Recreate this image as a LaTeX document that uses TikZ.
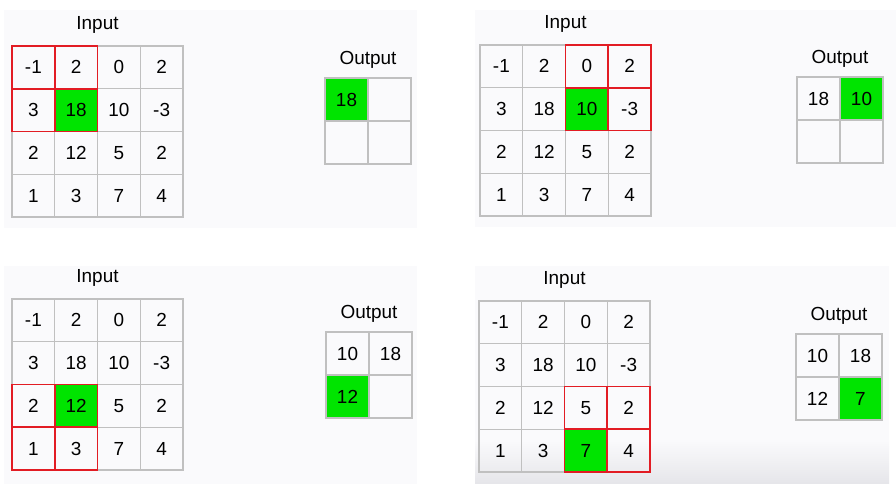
\documentclass[tikz,border=0pt]{standalone}
\usepackage{fontspec}
\setmainfont{Liberation Sans}
\usepackage{tikz}
\usetikzlibrary{positioning,backgrounds}

\definecolor{gridgray}{RGB}{192,192,192}
\definecolor{winred}{RGB}{226,28,36}
\definecolor{maxgreen}{RGB}{0,228,0}
\definecolor{panelbg}{RGB}{250,250,252}

\begin{document}
\begin{tikzpicture}[x=1bp, y=-1bp,
  every node/.style={font=\fontsize{19}{21}\selectfont},
  cell/.style={rectangle, draw=gridgray, line width=1.3bp, minimum size=42.75bp, inner sep=0pt, outer sep=0pt},
  ocell/.style={cell, minimum size=43bp},
  win/.style={draw=winred, line width=1.7bp},
  panel/.style={fill=panelbg, draw=none}]
  \useasboundingbox (0,0) rectangle (896,492);

  % light panels behind the four steps
  \begin{scope}[on background layer]
    \fill[white] (0,0) rectangle (896,492);
    \fill[panel] (4,10) rectangle (417,228);
    \fill[panel] (475,10) rectangle (896,227);
    \fill[panel] (4,266) rectangle (417,484);
    \fill[panel] (475,266) rectangle (889,440);
    \shade[top color=panelbg, bottom color={rgb,255:red,230;green,230;blue,234}] (475,440) rectangle (889,483);
  \end{scope}

  % input grids, same numbers in all four steps
  \foreach \p/\px/\py in {a/12/46, b/480/45, c/12/299, d/479/301} {
    \node (in\p) at ({\px+85.5},{\py-21}) {Input};
    \foreach \row [count=\r] in {{-1,2,0,2},{3,18,10,-3},{2,12,5,2},{1,3,7,4}}
      \foreach \v [count=\c] in \row
        \node[cell] (\p\r\c) at ({\px+42.75*(\c-0.5)},{\py+42.75*(\r-0.5)}) {\v};
  }

  % Step 1: window top left, max 18
  \node (outa) at (368,60) {Output};
  \node[ocell] (oa1) at (346.5,99.5) {18};
  \node[ocell, right=0pt of oa1] (oa2) {};
  \node[ocell, below=0pt of oa1] (oa3) {};
  \node[ocell, right=0pt of oa3] (oa4) {};

  % Step 2: window top right, max 10
  \node (outb) at (840,59) {Output};
  \node[ocell] (ob1) at (818.5,98.5) {18};
  \node[ocell, right=0pt of ob1] (ob2) {10};
  \node[ocell, below=0pt of ob1] (ob3) {};
  \node[ocell, right=0pt of ob3] (ob4) {};

  % Step 3: window bottom left, max 12
  \node (outc) at (369,314) {Output};
  \node[ocell] (oc1) at (347.5,353.5) {10};
  \node[ocell, right=0pt of oc1] (oc2) {18};
  \node[ocell, below=0pt of oc1] (oc3) {12};
  \node[ocell, right=0pt of oc3] (oc4) {};

  % Step 4: window bottom right, max 7
  \node (outd) at (839,316) {Output};
  \node[ocell] (od1) at (817.5,355.5) {10};
  \node[ocell, right=0pt of od1] (od2) {18};
  \node[ocell, below=0pt of od1] (od3) {12};
  \node[ocell, right=0pt of od3] (od4) {7};

  % green: the max and where it goes
  \begin{scope}[on background layer]
    \foreach \n in {a22, oa1, b23, ob2, c32, oc3, d43, od4}
      \fill[maxgreen] (\n.north west) rectangle (\n.south east);
  \end{scope}

  % red 2x2 windows
  \foreach \n in {a11, a12, a21, a22, b13, b14, b23, b24, c31, c32, c41, c42, d33, d34, d43, d44}
    \draw[win] (\n.north west) rectangle (\n.south east);
\end{tikzpicture}
\end{document}
